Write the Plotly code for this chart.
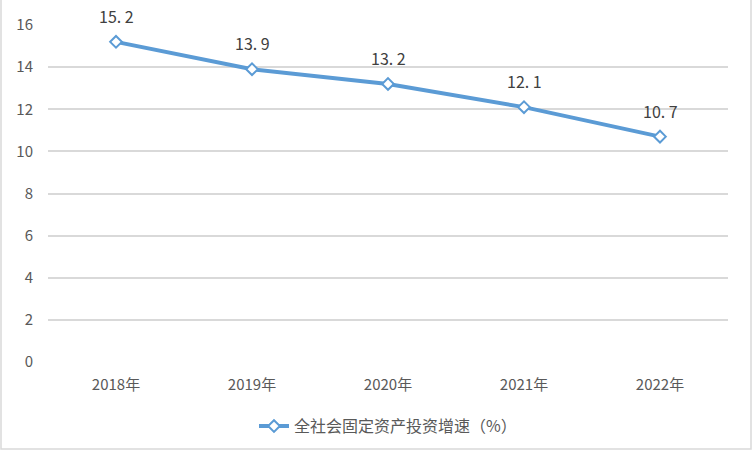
import plotly.graph_objects as go

years = ["2018年", "2019年", "2020年", "2021年", "2022年"]
growth = [15.2, 13.9, 13.2, 12.1, 10.7]
labels = ["15. 2", "13. 9", "13. 2", "12. 1", "10. 7"]
series_name = "全社会固定资产投资增速（%）"

W, H = 752, 455
ml, mr, mt, mb = 48, 24, 25, 89
pw, ph = W - ml - mr, H - mt - mb

fig = go.Figure()
fig.add_trace(go.Scatter(
    x=years, y=growth, name=series_name,
    mode="lines+markers",
    line=dict(color="#5B9BD5", width=4),
    marker=dict(symbol="diamond", size=9, color="white",
                line=dict(color="#5B9BD5", width=2)),
    cliponaxis=False,
))

# data labels above each point
for yr, v, lab in zip(years, growth, labels):
    fig.add_annotation(x=yr, y=v, text=lab, showarrow=False, yshift=26,
                       font=dict(family="Noto Sans CJK SC", size=16, color="#404040"))

fig.update_layout(
    width=W, height=H,
    margin=dict(l=ml, r=mr, t=mt, b=mb),
    plot_bgcolor="white", paper_bgcolor="white",
    font=dict(family="Noto Sans CJK SC", size=15, color="#595959"),
    showlegend=True,
    legend=dict(orientation="h", x=0.5, xanchor="center", y=-0.14, yanchor="top",
                font=dict(size=16, color="#595959")),
    xaxis=dict(range=[-0.5, 4.5], showgrid=False, showline=False, ticks="",
               zeroline=False, automargin=False, ticklabelstandoff=12,
               tickfont=dict(size=15, color="#595959")),
    yaxis=dict(range=[0, 16], dtick=2, showgrid=True, gridcolor="#D9D9D9",
               gridwidth=1.5, zeroline=False, showline=False, ticks="",
               automargin=False, ticklabelstandoff=14,
               tickfont=dict(size=15, color="#595959")),
)

# outer chart border
fig.add_shape(type="rect", xref="paper", yref="paper",
              x0=-(ml - 1) / pw, x1=(W - ml - 1) / pw,
              y0=-(mb - 1) / ph, y1=(H - mt - 1) / ph,
              line=dict(color="#D9D9D9", width=1.5), layer="below")

fig.write_html("out.html", config={"displayModeBar": False},
               post_script="document.body.style.margin='0';")
